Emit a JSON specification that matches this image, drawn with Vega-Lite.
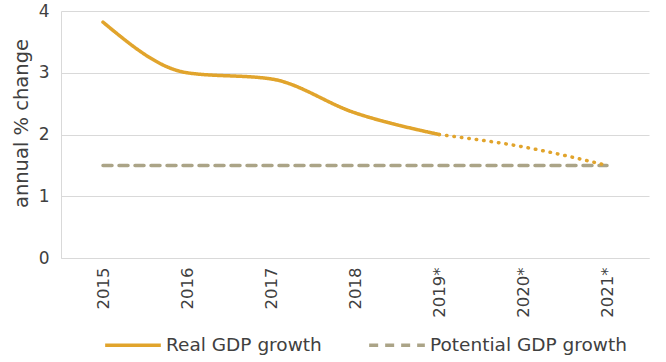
{
  "$schema": "https://vega.github.io/schema/vega-lite/v6.json",
  "autosize": {"type": "none"},
  "width": 588,
  "height": 247,
  "padding": {"left": 61, "top": 11, "right": 17, "bottom": 104},
  "config": {
    "view": {"stroke": null},
    "font": "DejaVu Sans",
    "axis": {"labelFont": "DejaVu Sans", "titleFont": "DejaVu Sans", "labelColor": "#404040", "titleColor": "#404040"},
    "legend": {"labelFont": "DejaVu Sans"}
  },
  "data": {
    "values": [
      {"year": "2015", "value": 3.82, "series": "Real GDP growth", "part": "actual"},
      {"year": "2016", "value": 3.0, "series": "Real GDP growth", "part": "actual"},
      {"year": "2017", "value": 2.9, "series": "Real GDP growth", "part": "actual"},
      {"year": "2018", "value": 2.35, "series": "Real GDP growth", "part": "actual"},
      {"year": "2019*", "value": 2.0, "series": "Real GDP growth", "part": "actual"},
      {"year": "2019*", "value": 2.0, "series": "Real GDP growth", "part": "forecast"},
      {"year": "2020*", "value": 1.8, "series": "Real GDP growth", "part": "forecast"},
      {"year": "2021*", "value": 1.5, "series": "Real GDP growth", "part": "forecast"},
      {"year": "2015", "value": 1.5, "series": "Potential GDP growth", "part": "actual"},
      {"year": "2016", "value": 1.5, "series": "Potential GDP growth", "part": "actual"},
      {"year": "2017", "value": 1.5, "series": "Potential GDP growth", "part": "actual"},
      {"year": "2018", "value": 1.5, "series": "Potential GDP growth", "part": "actual"},
      {"year": "2019*", "value": 1.5, "series": "Potential GDP growth", "part": "actual"},
      {"year": "2020*", "value": 1.5, "series": "Potential GDP growth", "part": "actual"},
      {"year": "2021*", "value": 1.5, "series": "Potential GDP growth", "part": "actual"}
    ]
  },
  "encoding": {
    "x": {
      "field": "year", "type": "ordinal",
      "scale": {"type": "point", "padding": 0.5},
      "sort": ["2015", "2016", "2017", "2018", "2019*", "2020*", "2021*"],
      "axis": {"title": null, "labelAngle": -90, "labelFontSize": 16.5, "ticks": false, "grid": false, "domainColor": "#D9D9D9", "labelPadding": 9}
    },
    "y": {
      "field": "value", "type": "quantitative",
      "scale": {"domain": [0, 4]},
      "axis": {"title": "annual % change", "titleFontSize": 19.5, "titleFontWeight": "normal", "titleY": 112, "titleAlign": "center", "labelFontSize": 17, "tickCount": 4, "ticks": false, "gridColor": "#D9D9D9", "domainColor": "#D9D9D9", "labelPadding": 12, "titlePadding": 7}
    }
  },
  "layer": [
    {
      "transform": [{"filter": "datum.part == 'actual'"}],
      "mark": {"type": "line", "interpolate": "monotone", "strokeWidth": 3.5, "strokeCap": "round"},
      "encoding": {
        "color": {
          "field": "series", "type": "nominal",
          "scale": {"domain": ["Real GDP growth", "Potential GDP growth"], "range": ["#E1A42C", "#ABA487"]},
          "legend": {"orient": "none", "legendX": 42, "legendY": 304, "direction": "horizontal", "title": null, "labelFontSize": 18.5, "labelColor": "#404040", "labelLimit": 0, "symbolType": "stroke", "symbolSize": 3100, "symbolStrokeWidth": 3.5, "columnPadding": 40, "labelOffset": 3}
        },
        "strokeDash": {
          "field": "series", "type": "nominal",
          "scale": {"domain": ["Real GDP growth", "Potential GDP growth"], "range": [[1, 0], [9, 7]]},
          "legend": {"orient": "none", "legendX": 42, "legendY": 304, "direction": "horizontal", "title": null, "labelFontSize": 18.5, "labelColor": "#404040", "labelLimit": 0, "symbolType": "stroke", "symbolSize": 3100, "symbolStrokeWidth": 3.5, "columnPadding": 40, "labelOffset": 3}
        }
      }
    },
    {
      "transform": [{"filter": "datum.part == 'forecast'"}],
      "mark": {"type": "line", "interpolate": "monotone", "strokeWidth": 3.5, "strokeCap": "round", "strokeDash": [0.5, 7], "color": "#E1A42C"},
      "encoding": {}
    }
  ]
}
